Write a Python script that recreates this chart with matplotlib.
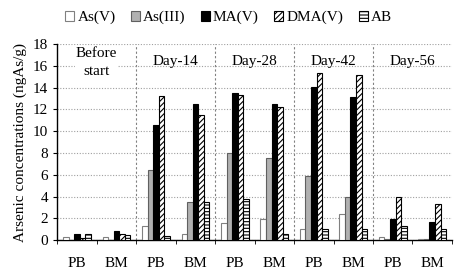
import matplotlib

matplotlib.use("Agg")

import matplotlib.pyplot as plt
import numpy as np

plt.rcParams["font.family"] = ["Liberation Serif", "DejaVu Serif"]
plt.rcParams["hatch.linewidth"] = 0.8

categories = ["PB", "BM"] * 5
periods = ["Before\nstart", "Day-14", "Day-28", "Day-42", "Day-56"]
species = ["As(V)", "As(III)", "MA(V)", "DMA(V)", "AB"]

as_v = [0.3, 0.3, 1.28, 0.52, 1.53, 1.9, 0.98, 2.38, 0.25, 0.1]
as_iii = [0.0, 0.0, 6.4, 3.46, 7.95, 7.5, 5.87, 3.97, 0.1, 0.1]
ma_v = [0.6, 0.8, 10.6, 12.45, 13.5, 12.5, 14.07, 13.1, 1.9, 1.62]
dma_v = [0.15, 0.6, 13.25, 11.5, 13.35, 12.2, 15.35, 15.2, 3.97, 3.27]
ab = [0.6, 0.5, 0.4, 3.52, 3.8, 0.52, 1.0, 1.0, 1.28, 0.98]

series = [as_v, as_iii, ma_v, dma_v, ab]
styles = [
    dict(facecolor="white", edgecolor="#808080", hatch=None),
    dict(facecolor="#b0b0b0", edgecolor="#606060", hatch=None),
    dict(facecolor="black", edgecolor="black", hatch=None),
    dict(facecolor="white", edgecolor="black", hatch="//////"),
    dict(facecolor="white", edgecolor="black", hatch="-----"),
]

fig = plt.figure(figsize=(4.57, 2.75), dpi=100)
ax = fig.add_axes([0.125, 0.127, 0.864, 0.713])

x = np.arange(len(categories))
width = 0.14
for i, (vals, st, name) in enumerate(zip(series, styles, species)):
    ax.bar(
        x + (i - 2) * width,
        vals,
        width,
        label=name,
        facecolor=st["facecolor"],
        edgecolor=st["edgecolor"],
        hatch=st["hatch"],
        linewidth=0.8,
        zorder=3,
    )

ax.set_xlim(-0.5, len(categories) - 0.5)
ax.set_ylim(0, 18)
ax.set_yticks(np.arange(0, 19, 2))
ax.yaxis.grid(True, linestyle=(0, (1, 1.5)), color="#a0a0a0", linewidth=0.8, zorder=0)

for b in range(1, 5):
    ax.axvline(2 * b - 0.5, color="#808080", linestyle=(0, (2, 2)), linewidth=0.8, zorder=1)

for p, label in enumerate(periods):
    ax.text(2 * p + 0.5, 17.7 if p == 0 else 17.0, label, ha="center", va="top",
            fontsize=11, linespacing=1.45, zorder=4,
            bbox=dict(facecolor="white", edgecolor="none", pad=0.5) if p == 0 else None)

ax.set_xticks(x)
ax.set_xticklabels(categories, fontsize=11)
ax.set_xticks(np.arange(-0.5, len(categories), 1), minor=True)
ax.tick_params(axis="x", which="major", length=0, pad=12)
ax.tick_params(axis="x", which="minor", length=3, direction="out")
ax.tick_params(axis="y", labelsize=11, length=3, direction="out")

ax.spines["top"].set_visible(False)
ax.spines["right"].set_visible(False)
ax.spines["left"].set_linewidth(1.0)
ax.spines["bottom"].set_linewidth(1.0)

ax.set_ylabel("Arsenic concentrations (ngAs/g)", fontsize=11, labelpad=4)

fig.legend(
    loc="upper center",
    bbox_to_anchor=(0.5, 1.01),
    ncol=5,
    frameon=False,
    fontsize=11,
    handlelength=0.6,
    handleheight=0.6,
    handletextpad=0.2,
    columnspacing=1.0,
)

fig.savefig("out.png", dpi=100)
